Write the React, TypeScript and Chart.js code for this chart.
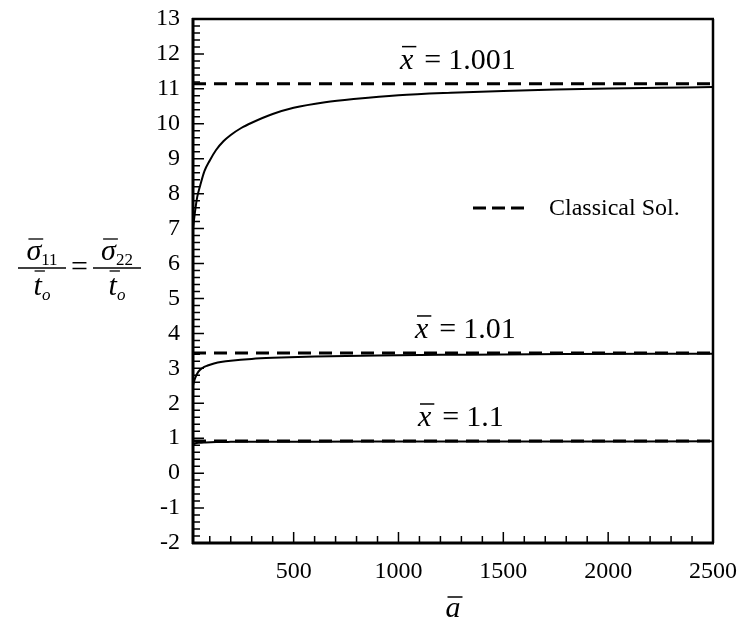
import React, { useEffect, useRef } from "react";
import { Chart, registerables } from "chart.js";

Chart.register(...registerables);

// ---- data ----
const aTop = [20, 30, 40, 55, 75, 100, 130, 165, 200, 250, 300, 400, 500, 650, 800, 1000, 1250, 1500, 1750, 2000, 2250, 2500];
const sTop = [7.0, 7.5, 7.9, 8.25, 8.65, 8.95, 9.25, 9.5, 9.68, 9.88, 10.03, 10.28, 10.46, 10.62, 10.72, 10.82, 10.89, 10.94, 10.98, 11.01, 11.03, 11.05];
const aMid = [20, 30, 45, 65, 90, 120, 160, 200, 300, 400, 600, 900, 1300, 1800, 2500];
const sMid = [2.5, 2.72, 2.9, 3.01, 3.08, 3.14, 3.19, 3.22, 3.27, 3.3, 3.34, 3.37, 3.39, 3.41, 3.42];
const aBot = [20, 30, 50, 80, 130, 200, 350, 600, 1000, 1600, 2500];
const sBot = [0.82, 0.85, 0.87, 0.88, 0.89, 0.895, 0.9, 0.9, 0.905, 0.905, 0.91];
const classicalA = [20, 2500];
const classicalValues = [11.15, 3.44, 0.92];
const xbarValues = ["1.001", "1.01", "1.1"];
const xTickValues = [500, 1000, 1500, 2000, 2500];
const yTickValues = [-2, -1, 0, 1, 2, 3, 4, 5, 6, 7, 8, 9, 10, 11, 12, 13];
const legendLabel = "Classical Sol.";

const SERIF = "'Liberation Serif', 'Times New Roman', serif";

const pts = (xs: number[], ys: number[]) => xs.map((x, i) => ({ x, y: ys[i] }));

function drawXbarLabel(ctx: CanvasRenderingContext2D, x0: number, baseline: number, num: string) {
  ctx.save();
  ctx.fillStyle = "#000";
  ctx.strokeStyle = "#000";
  ctx.textBaseline = "alphabetic";
  ctx.textAlign = "left";
  ctx.font = `italic 30px ${SERIF}`;
  ctx.fillText("x", x0, baseline);
  const wx = ctx.measureText("x").width;
  ctx.lineWidth = 1.5;
  ctx.beginPath();
  ctx.moveTo(x0 + 2, baseline - 22);
  ctx.lineTo(x0 + wx + 3, baseline - 22);
  ctx.stroke();
  ctx.font = `30px ${SERIF}`;
  const xe = x0 + wx + 11;
  ctx.fillText("=", xe, baseline);
  const we = ctx.measureText("=").width;
  ctx.fillText(num, xe + we + 7, baseline);
  ctx.restore();
}

function drawFrac(ctx: CanvasRenderingContext2D, cx: number, cy: number, sub: string) {
  ctx.save();
  ctx.fillStyle = "#000";
  ctx.strokeStyle = "#000";
  ctx.textAlign = "left";
  ctx.textBaseline = "alphabetic";
  ctx.font = `italic 30px ${SERIF}`;
  const ws = ctx.measureText("σ").width;
  ctx.font = `17px ${SERIF}`;
  const wsub = ctx.measureText(sub).width;
  const numW = ws + wsub;
  const nx = cx - numW / 2;
  const nb = cy - 8;
  ctx.font = `italic 30px ${SERIF}`;
  ctx.fillText("σ", nx, nb);
  ctx.lineWidth = 1.3;
  ctx.beginPath();
  ctx.moveTo(nx + 2, nb - 21);
  ctx.lineTo(nx + ws + 2, nb - 21);
  ctx.stroke();
  ctx.font = `17px ${SERIF}`;
  ctx.fillText(sub, nx + ws, nb + 5);
  ctx.lineWidth = 1.5;
  ctx.beginPath();
  ctx.moveTo(cx - 24, cy);
  ctx.lineTo(cx + 24, cy);
  ctx.stroke();
  ctx.font = `italic 30px ${SERIF}`;
  const wt = ctx.measureText("t").width;
  ctx.font = `italic 17px ${SERIF}`;
  const wo = ctx.measureText("o").width;
  const dx = cx - (wt + wo) / 2;
  const db = cy + 27;
  ctx.font = `italic 30px ${SERIF}`;
  ctx.fillText("t", dx, db);
  ctx.lineWidth = 1.3;
  ctx.beginPath();
  ctx.moveTo(dx + 1, db - 24);
  ctx.lineTo(dx + wt + 3, db - 24);
  ctx.stroke();
  ctx.font = `italic 17px ${SERIF}`;
  ctx.fillText("o", dx + wt, db + 5);
  ctx.restore();
}

const decorPlugin = {
  id: "decor",
  afterDraw(chart: any) {
    const ctx: CanvasRenderingContext2D = chart.ctx;
    const { left, right, top, bottom } = chart.chartArea;
    const xs = chart.scales.x;
    const ys = chart.scales.y;
    ctx.save();
    ctx.strokeStyle = "#000";
    ctx.fillStyle = "#000";
    ctx.lineCap = "butt";

    ctx.lineWidth = 1.5;
    ctx.beginPath();
    for (let v = 100; v < xs.max; v += 100) {
      const px = xs.getPixelForValue(v);
      const len = v % 500 === 0 ? 11 : 7;
      ctx.moveTo(px, bottom);
      ctx.lineTo(px, bottom - len);
    }
    for (let k = Math.round(ys.min * 5); k <= Math.round(ys.max * 5); k++) {
      const py = ys.getPixelForValue(k / 5);
      const len = k % 5 === 0 ? 11 : 7;
      ctx.moveTo(left, py);
      ctx.lineTo(left + len, py);
    }
    ctx.stroke();

    ctx.lineWidth = 3;
    ctx.beginPath();
    ctx.moveTo(left, top - 1);
    ctx.lineTo(left, bottom + 1);
    ctx.moveTo(left - 1, bottom);
    ctx.lineTo(right + 1, bottom);
    ctx.stroke();
    ctx.lineWidth = 2.5;
    ctx.beginPath();
    ctx.moveTo(left - 1, top);
    ctx.lineTo(right + 1, top);
    ctx.moveTo(right, top);
    ctx.lineTo(right, bottom);
    ctx.stroke();

    // legend
    ctx.lineWidth = 3;
    ctx.setLineDash([13, 6]);
    ctx.beginPath();
    ctx.moveTo(473, 208);
    ctx.lineTo(526, 208);
    ctx.stroke();
    ctx.setLineDash([]);
    ctx.font = `24px ${SERIF}`;
    ctx.textBaseline = "middle";
    ctx.textAlign = "left";
    ctx.fillText(legendLabel, 549, 209);

    const labelX = [400, 415, 418];
    classicalValues.forEach((v, i) => {
      const py = ys.getPixelForValue(v);
      drawXbarLabel(ctx, labelX[i], py - 15, xbarValues[i]);
    });

    const cy = 268;
    drawFrac(ctx, 42, cy, "11");
    ctx.font = `30px ${SERIF}`;
    ctx.textBaseline = "alphabetic";
    ctx.textAlign = "left";
    ctx.fillText("=", 71, cy + 8);
    drawFrac(ctx, 117, cy, "22");

    ctx.font = `italic 30px ${SERIF}`;
    const wa = ctx.measureText("a").width;
    const ax = (left + right) / 2 - wa / 2;
    const ab = 617;
    ctx.fillText("a", ax, ab);
    ctx.lineWidth = 1.5;
    ctx.beginPath();
    ctx.moveTo(ax + 2, ab - 20);
    ctx.lineTo(ax + wa + 2, ab - 20);
    ctx.stroke();

    ctx.restore();
  },
};

export default function App() {
  const ref = useRef<HTMLCanvasElement | null>(null);
  useEffect(() => {
    if (!ref.current) return;
    const solid = (a: number[], s: number[]) => ({
      data: pts(a, s),
      borderColor: "#000",
      borderWidth: 2,
      pointRadius: 0,
      fill: false,
      cubicInterpolationMode: "monotone" as const,
    });
    const dashed = (v: number) => ({
      label: legendLabel,
      data: pts(classicalA, classicalA.map(() => v)),
      borderColor: "#000",
      borderWidth: 3,
      borderDash: [13, 8],
      pointRadius: 0,
      fill: false,
    });
    const chart = new Chart(ref.current, {
      type: "line",
      data: {
        datasets: [
          dashed(classicalValues[0]),
          solid(aTop, sTop),
          dashed(classicalValues[1]),
          solid(aMid, sMid),
          dashed(classicalValues[2]),
          solid(aBot, sBot),
        ] as any,
      },
      options: {
        animation: false,
        responsive: false,
        maintainAspectRatio: false,
        layout: { padding: { top: 19, right: 29, left: 0, bottom: 0 } },
        plugins: { legend: { display: false }, tooltip: { enabled: false } },
        scales: {
          x: {
            type: "linear",
            min: 20,
            max: 2500,
            afterBuildTicks: (s: any) => {
              s.ticks = xTickValues.map((value) => ({ value }));
            },
            afterFit: (s: any) => {
              s.height = 80;
              s.paddingLeft = 0;
              s.paddingRight = 0;
            },
            grid: { display: false, drawTicks: false },
            border: { display: false },
            ticks: {
              color: "#000",
              font: { family: SERIF, size: 24 },
              padding: 14,
              maxRotation: 0,
              autoSkip: false,
              callback: (v: any) => String(v),
            },
          },
          y: {
            type: "linear",
            min: -2,
            max: 13,
            afterBuildTicks: (s: any) => {
              s.ticks = yTickValues.map((value) => ({ value }));
            },
            afterFit: (s: any) => {
              s.width = 193;
              s.paddingTop = 0;
              s.paddingBottom = 0;
            },
            grid: { display: false, drawTicks: false },
            border: { display: false },
            ticks: {
              color: "#000",
              font: { family: SERIF, size: 24 },
              padding: 13,
              autoSkip: false,
              callback: (v: any) => String(v),
            },
          },
        },
      },
      plugins: [decorPlugin],
    });
    return () => chart.destroy();
  }, []);
  return (
    <div style={{ position: "fixed", left: 0, top: 0, width: 742, height: 623, background: "#fff" }}>
      <canvas ref={ref} width={742} height={623} style={{ width: 742, height: 623, display: "block" }} />
    </div>
  );
}
